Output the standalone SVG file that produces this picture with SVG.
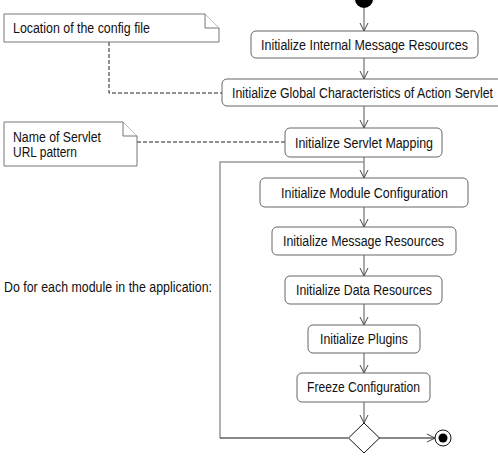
<svg xmlns="http://www.w3.org/2000/svg" width="498" height="463" viewBox="0 0 498 463">
<defs>
<style>
text{font-family:"Liberation Sans Narrow","Liberation Sans",Arial,sans-serif;font-size:14px;fill:#111}
.box{fill:#fff;stroke:#666;stroke-width:1}
.note{fill:#fff;stroke:#777;stroke-width:1}
.c{fill:none;stroke:#555;stroke-width:1}
.d{fill:none;stroke:#222;stroke-width:1;stroke-dasharray:4 2}
</style>
<marker id="v" markerWidth="10" markerHeight="10" refX="8" refY="4" orient="auto" markerUnits="userSpaceOnUse" viewBox="0 0 10 8">
<path d="M0,0 L8,4 L0,8" fill="none" stroke="#444" stroke-width="1"/>
</marker>
</defs>
<rect width="498" height="463" fill="#fff"/>
<g id="connectors">
<path class="c" d="M364,8 V31" marker-end="url(#v)"/>
<path class="c" d="M364,58 V79" marker-end="url(#v)"/>
<path class="c" d="M364,106 V128" marker-end="url(#v)"/>
<path class="c" d="M364,157 V178" marker-end="url(#v)"/>
<path class="c" d="M364,207 V227" marker-end="url(#v)"/>
<path class="c" d="M364,255 V276" marker-end="url(#v)"/>
<path class="c" d="M364,304 V325" marker-end="url(#v)"/>
<path class="c" d="M364,353 V373" marker-end="url(#v)"/>
<path class="c" d="M364,402 V423" marker-end="url(#v)"/>
<path fill="none" stroke="#999" stroke-width="1.5" d="M220,438 V162 H364"/>
<path fill="none" stroke="#111" stroke-width="1" d="M348,438 H220"/>
<path fill="none" stroke="#111" stroke-width="1" d="M379,438 H435" marker-end="url(#v)"/>
<path class="d" d="M109,42 V93 H222"/>
<path class="d" d="M137,142 H285"/>
</g>
<g id="start"><circle cx="364" cy="-1" r="9" fill="#000"/></g>
<g id="n1"><rect class="box" x="251" y="31" width="227" height="27" rx="5"/><text x="261" y="50" textLength="207" lengthAdjust="spacingAndGlyphs">Initialize Internal Message Resources</text></g>
<g id="n2"><rect class="box" x="222" y="79" width="290" height="27" rx="5"/><text x="232" y="98" textLength="261" lengthAdjust="spacingAndGlyphs">Initialize Global Characteristics of Action Servlet</text></g>
<g id="n3"><rect class="box" x="285" y="128" width="157" height="29" rx="5"/><text x="295" y="148" textLength="138" lengthAdjust="spacingAndGlyphs">Initialize Servlet Mapping</text></g>
<g id="n4"><rect class="box" x="260" y="178" width="208" height="29" rx="5"/><text x="281" y="197.5" textLength="167" lengthAdjust="spacingAndGlyphs">Initialize Module Configuration</text></g>
<g id="n5"><rect class="box" x="272" y="227" width="184" height="28" rx="5"/><text x="283" y="246" textLength="161" lengthAdjust="spacingAndGlyphs">Initialize Message Resources</text></g>
<g id="n6"><rect class="box" x="285" y="276" width="157" height="28" rx="5"/><text x="296" y="295" textLength="136" lengthAdjust="spacingAndGlyphs">Initialize Data Resources</text></g>
<g id="n7"><rect class="box" x="308" y="325" width="112" height="28" rx="5"/><text x="320" y="344" textLength="88" lengthAdjust="spacingAndGlyphs">Initialize Plugins</text></g>
<g id="n8"><rect class="box" x="297" y="373" width="133" height="29" rx="5"/><text x="307" y="392" textLength="113" lengthAdjust="spacingAndGlyphs">Freeze Configuration</text></g>
<g id="decision"><path d="M364,423 L379.5,438 L364,453 L348.5,438 Z" fill="#fff" stroke="#111" stroke-width="1"/></g>
<g id="end"><circle cx="443" cy="438" r="8" fill="#fff" stroke="#111" stroke-width="1"/><circle cx="443" cy="438" r="4.5" fill="#000"/></g>
<g id="note1"><path class="note" d="M4,14 H205 L219,28 V42 H4 Z"/><path class="note" d="M205,14 V28 H219"/><text x="13" y="33" textLength="137" lengthAdjust="spacingAndGlyphs">Location of the config file</text></g>
<g id="note2"><path class="note" d="M4,122 H123 L137,136 V166 H4 Z"/><path class="note" d="M123,122 V136 H137"/><text x="13" y="142" textLength="88" lengthAdjust="spacingAndGlyphs">Name of Servlet</text><text x="13" y="157" textLength="64" lengthAdjust="spacingAndGlyphs">URL pattern</text></g>
<g id="label"><text x="4" y="292" textLength="208" lengthAdjust="spacingAndGlyphs">Do for each module in the application:</text></g>
</svg>
